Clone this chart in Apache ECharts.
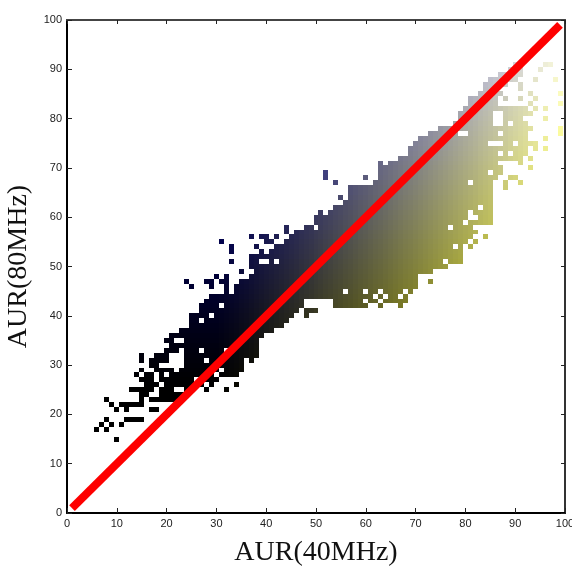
<!DOCTYPE html>
<html>
<head>
<meta charset="utf-8">
<style>
    html, body { margin: 0; padding: 0; background: #fff; }
    #chart { width: 572px; height: 566px; }
    /* the source picture is a soft upscaled bitmap */
    #chart canvas { filter: blur(0.5px); }
</style>
<script src="https://cdn.jsdelivr.net/npm/echarts@6/dist/echarts.min.js"></script>
</head>
<body>
<div id="chart"></div>
<script>
    var tickLabels = [0, 10, 20, 30, 40, 50, 60, 70, 80, 90, 100];
    var refLine = [[1, 1], [99, 99]];

    // AUR(80MHz) bin of each row
    var rowY = [15, 17, 18, 19, 21, 22, 23, 24, 25, 26, 27, 28, 29, 30, 31, 32, 33, 34, 35, 36, 37, 38, 39,
        40, 41, 42, 43, 44, 45, 46, 47, 48, 49, 50, 51, 52, 53, 54, 55, 56, 57, 58, 59, 60, 61, 62, 63, 64,
        65, 66, 67, 68, 69, 70, 71, 72, 73, 74, 75, 76, 77, 78, 79, 80, 81, 82, 83, 84, 85, 86, 87, 88, 89, 90, 91];

    // AUR(40MHz) bins filled on that row, as runs
    var rowX = [
        "10", "6 8", "7 9 11", "8 12-15", "10 12 17-18", "9 11-15", "8 15 17-22", "15-16 19-23",
        "13-17 19-21 24-25 28 32", "16-18 20-27 29 34", "15-17 19-25 27-30", "14 16-17 19 21-29 31-34",
        "15 18-21 23-30 32-35", "17-18 24-35", "15 17-20 24-27 29-35 37", "15 18-20 24-38",
        "20-22 24-26 28-31 33-38", "21-38", "20-21 24-38", "21-39", "23-41", "25-43", "25-26 28-44",
        "25-28 30-45 48", "27-46 48-50", "27-30 32-47 54-60 63 67", "28-47 54-59 61-62 64-68",
        "29-61 63 65-66 68", "32 34-55 57-59 61-62 64-67 69", "25 29 32 34-70", "24 28-29 31-32 35-70 73",
        "30 32 37-70", "35 38-73", "37-76", "33 37-38 41 43-75 77-79", "37-79", "33 39 41-79",
        "33 38 42-77 79 81", "31 40-41 44-80 82", "37 39-40 42 45-81 84", "44 46-82", "44 48-49 51-76 78-81",
        "50-79 81-85", "50-80 83-85", "51 53-80 82-85", "54-82 84-85", "56-85", "55 57-85",
        "57-85", "57-85 88", "54 62-80 82-85 88 91", "52 60 63-86 89-90", "52 63-84 86-87", "63-87 93",
        "63 65-86 91", "67-91 93", "69-86 88 90-92", "69-92 94 96", "70-84 88-89 91-94", "71-92 96",
        "73-78 81-86 88-92 99", "75-93 99", "78-85 88 90-92", "79-85 88-91 96", "79-85 88-93", "80-92 94 96",
        "81-86 93 99", "81-86 88 91 94", "83-87 93 99", "84-86 91", "84-88 91", "85-90 94 98", "87-91",
        "89-91 95", "90-91 96-97"
    ];

    function buildCells() {
        var cells = [];
        rowX.forEach(function (row, i) {
            row.split(" ").forEach(function (run) {
                var ends = run.split("-").map(Number);
                var last = ends.length > 1 ? ends[1] : ends[0];
                for (var x = ends[0]; x <= last; x++) {
                    cells.push([x, rowY[i]]);
                }
            });
        });
        return cells;
    }

    // red and green follow x, blue follows y, both stay black at the low end
    function cellColor(x, y) {
        var rg = Math.round(255 * Math.pow(Math.max(x - 30, 0) / 70, 1.2));
        var b = Math.round(255 * Math.pow(Math.max(y - 25, 0) / 75, 1.3));
        return "rgb(" + rg + "," + rg + "," + b + ")";
    }

    function renderCell(params, api) {
        var x = api.value(0);
        var y = api.value(1);
        var p = api.coord([x - 0.5, y + 0.5]);
        var q = api.coord([x + 0.5, y - 0.5]);
        return {
            type: "rect",
            shape: {
                x: Math.round(p[0]),
                y: Math.round(p[1]),
                width: Math.round(q[0]) - Math.round(p[0]),
                height: Math.round(q[1]) - Math.round(p[1])
            },
            style: { fill: cellColor(x, y) }
        };
    }

    var labelFont = {
        color: "#222",
        fontFamily: "Liberation Sans",
        fontSize: 11,
        margin: 5,
        formatter: function (v) { return tickLabels.indexOf(v) >= 0 ? v : ""; }
    };
    var titleFont = { color: "#111", fontFamily: "Liberation Serif", fontSize: 28 };

    function mainAxis(name, position, gap) {
        return {
            type: "value", position: position, min: 0, max: 100, interval: 10,
            name: name, nameLocation: "middle", nameGap: gap, nameTextStyle: titleFont,
            splitLine: { show: false },
            axisLine: { show: true, onZero: false, lineStyle: { color: "#000", width: 2 } },
            axisTick: { inside: true, length: 5, lineStyle: { color: "#222", width: 1 } },
            axisLabel: labelFont
        };
    }
    function sideAxis(position, color) {
        return {
            type: "value", position: position, min: 0, max: 100, interval: 10,
            splitLine: { show: false },
            axisLine: { show: true, onZero: false, lineStyle: { color: color, width: 2 } },
            axisTick: { inside: true, length: 4, lineStyle: { color: "#222", width: 1 } },
            axisLabel: { show: false }
        };
    }

    var chart = echarts.init(document.getElementById("chart"), null, { renderer: "canvas" });
    chart.setOption({
        animation: false,
        backgroundColor: "#fff",
        grid: { left: 67, right: 7, top: 20, bottom: 53, outerBoundsMode: "none" },
        xAxis: [mainAxis("AUR(40MHz)", "bottom", 26), sideAxis("top", "#444")],
        yAxis: [mainAxis("AUR(80MHz)", "left", 31), sideAxis("right", "#333")],
        series: [
            {
                type: "custom",
                renderItem: renderCell,
                data: buildCells(),
                encode: { x: 0, y: 1 },
                silent: true
            },
            {
                type: "line",
                data: refLine,
                symbol: "none",
                lineStyle: { color: "#fe0000", width: 8 },
                z: 5
            }
        ]
    });
</script>
</body>
</html>
